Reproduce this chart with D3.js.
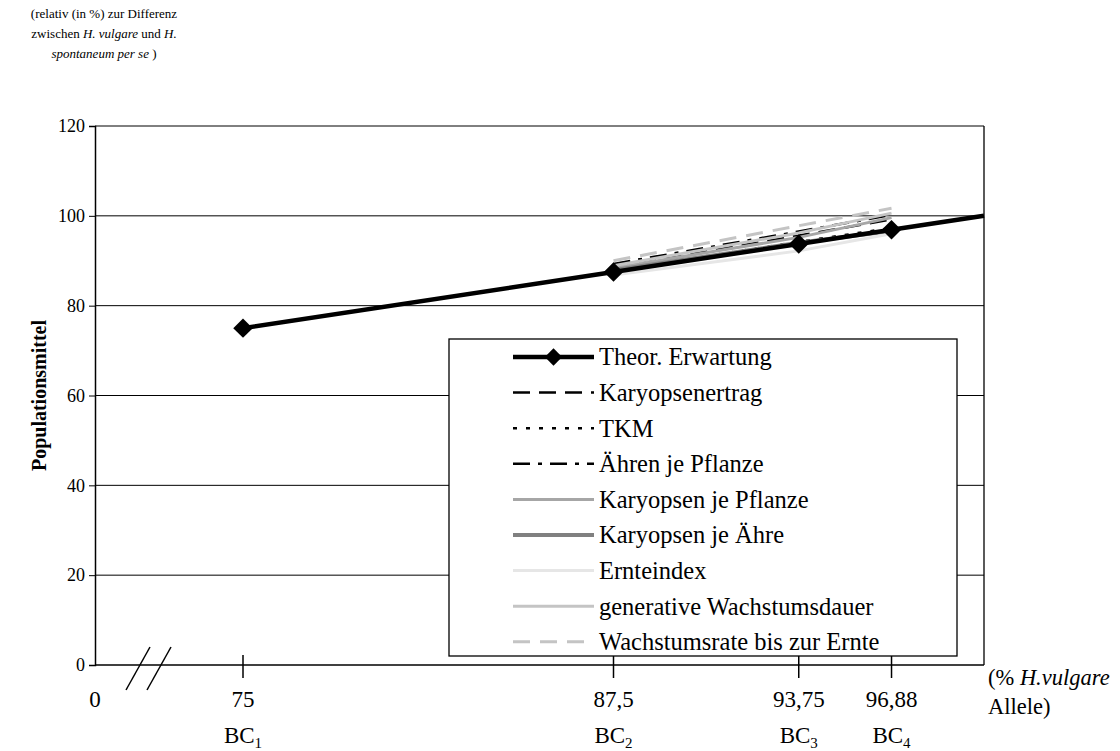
<!DOCTYPE html>
<html>
<head>
<meta charset="utf-8">
<script src="https://cdn.jsdelivr.net/npm/d3@7"></script>
<style>
  html, body { margin: 0; padding: 0; background: #fff; }
  svg { display: block; }
  svg text { font-family: "Liberation Serif", "Times New Roman", serif; }
</style>
</head>
<body>
<svg id="chart" width="1120" height="751"></svg>
<script>
// Share of H. vulgare alleles per backcross generation
const theorX = [75, 87.5, 93.75, 96.88, 100];
const theorY = [75, 87.5, 93.75, 96.88, 100];
const theorMarked = [true, true, true, true, false];

// Observed traits, measured in BC2, BC3 and BC4
const traitX = [87.5, 93.75, 96.88];
const karyopsenertrag = [88.6, 95.6, 99.2];
const tkm = [87.8, 94.2, 97.3];
const aehrenJePflanze = [89.3, 96.5, 100.2];
const karyopsenJePflanze = [88.4, 95.2, 99.6];
const karyopsenJeAehre = [87.9, 94.0, 96.6];
const ernteindex = [86.8, 92.2, 96.0];
const generativeWachstumsdauer = [88.9, 96.2, 100.6];
const wachstumsrate = [90.0, 97.8, 101.7];

const traitNames = [
  "Karyopsenertrag", "TKM", "Ähren je Pflanze", "Karyopsen je Pflanze",
  "Karyopsen je Ähre", "Ernteindex", "generative Wachstumsdauer",
  "Wachstumsrate bis zur Ernte"
];
const traitValues = [
  karyopsenertrag, tkm, aehrenJePflanze, karyopsenJePflanze,
  karyopsenJeAehre, ernteindex, generativeWachstumsdauer, wachstumsrate
];
const theorName = "Theor. Erwartung";

// Axis annotations
const yTicks = [0, 20, 40, 60, 80, 100, 120];
const xTickValues = [75, 87.5, 93.75, 96.88];
const xTickLabels = ["75", "87,5", "93,75", "96,88"];
const bcIndex = ["1", "2", "3", "4"];

// Line styles per trait (same order as traitNames)
const traitStyles = [
  { stroke: "#000000", width: 2.5, dash: "17,9" },
  { stroke: "#000000", width: 2.5, dash: "4,9" },
  { stroke: "#000000", width: 2.5, dash: "17,8,4,8" },
  { stroke: "#a6a6a6", width: 3, dash: null },
  { stroke: "#808080", width: 4, dash: null },
  { stroke: "#e6e6e6", width: 3, dash: null },
  { stroke: "#c4c4c4", width: 3, dash: null },
  { stroke: "#c4c4c4", width: 3, dash: "17,10" }
];

const SERIF = "Liberation Serif, Times New Roman, serif";
const svg = d3.select("#chart").attr("font-family", SERIF);
const plotL = 95, plotR = 984, plotT = 126, plotB = 665;

const x = d3.scaleLinear().domain([75, 100]).range([243, plotR]);
const y = d3.scaleLinear().domain([0, 120]).range([plotB, plotT]);

// Horizontal grid lines
svg.append("g").selectAll("line")
  .data(yTicks.filter(d => d > 0))
  .join("line")
  .attr("x1", plotL).attr("x2", plotR)
  .attr("y1", d => y(d)).attr("y2", d => y(d))
  .attr("stroke", "#000").attr("stroke-width", 1);

// Right border of the plot area
svg.append("line")
  .attr("x1", plotR).attr("x2", plotR)
  .attr("y1", y(120)).attr("y2", y(0))
  .attr("stroke", "#000").attr("stroke-width", 1.3);

// Y axis
const yAxis = d3.axisLeft(y).tickValues(yTicks).tickSize(6).tickPadding(4);
const gy = svg.append("g").attr("transform", `translate(${plotL},0)`).call(yAxis)
  .attr("font-family", SERIF).attr("font-size", 18);
gy.select(".domain").attr("stroke", "#000").attr("stroke-width", 1.5);
gy.selectAll(".tick line").attr("stroke", "#000");
gy.selectAll(".tick text").attr("fill", "#000");

// X axis line
svg.append("line")
  .attr("x1", plotL).attr("x2", plotR)
  .attr("y1", plotB).attr("y2", plotB)
  .attr("stroke", "#000").attr("stroke-width", 1.5);

// Axis break marks
const brk = svg.append("g").attr("stroke", "#000").attr("stroke-width", 1.5);
[126, 147].forEach(bx => {
  brk.append("line")
    .attr("x1", bx).attr("y1", plotB + 25)
    .attr("x2", bx + 24).attr("y2", plotB - 18);
});

// X tick marks and labels
const xt = svg.append("g");
xt.selectAll("line")
  .data(xTickValues)
  .join("line")
  .attr("x1", d => x(d)).attr("x2", d => x(d))
  .attr("y1", plotB - 10).attr("y2", plotB + 13)
  .attr("stroke", "#000").attr("stroke-width", 1.5);

xt.selectAll("text.num")
  .data(xTickValues)
  .join("text")
  .attr("class", "num")
  .attr("x", d => x(d)).attr("y", plotB + 42)
  .attr("text-anchor", "middle")
  .attr("font-size", 23)
  .text((d, i) => xTickLabels[i]);

svg.append("text")
  .attr("x", plotL).attr("y", plotB + 42)
  .attr("text-anchor", "middle").attr("font-size", 23)
  .text("0");

const bc = xt.selectAll("text.bc")
  .data(xTickValues)
  .join("text")
  .attr("class", "bc")
  .attr("x", d => x(d)).attr("y", plotB + 78)
  .attr("text-anchor", "middle")
  .attr("font-size", 23);
bc.append("tspan").text("BC");
bc.append("tspan").attr("dy", 5).attr("font-size", 15).text((d, i) => bcIndex[i]);

// X axis unit label
const xl = svg.append("text").attr("font-size", 22.5);
xl.append("tspan").attr("x", 988).attr("y", plotB + 20).text("(% ");
xl.append("tspan").attr("font-style", "italic").text("H.vulgare");
xl.append("tspan").attr("x", 988).attr("y", plotB + 49).text("Allele)");

// Y axis title
svg.append("text")
  .attr("transform", `translate(46,${(y(0) + y(120)) / 2}) rotate(-90)`)
  .attr("text-anchor", "middle")
  .attr("font-size", 20).attr("font-weight", "bold")
  .text("Populationsmittel");

// Note above the y axis
const note = svg.append("text").attr("text-anchor", "middle").attr("font-size", 13);
const nx = 104;
note.append("tspan").attr("x", nx).attr("y", 18).text("(relativ (in %) zur Differenz");
note.append("tspan").attr("x", nx).attr("y", 38).text("zwischen ");
note.append("tspan").attr("font-style", "italic").text("H. vulgare");
note.append("tspan").text("  und ");
note.append("tspan").attr("font-style", "italic").text("H.");
note.append("tspan").attr("x", nx).attr("y", 58).attr("font-style", "italic").text("spontaneum  per se");
note.append("tspan").text(" )");

// Trait lines
const line = d3.line().x(d => x(d[0])).y(d => y(d[1]));
const traitG = svg.append("g").attr("fill", "none");
traitValues.forEach((vals, i) => {
  const st = traitStyles[i];
  traitG.append("path")
    .datum(traitX.map((xv, j) => [xv, vals[j]]))
    .attr("d", line)
    .attr("stroke", st.stroke)
    .attr("stroke-width", st.width)
    .attr("stroke-dasharray", st.dash)
    .attr("stroke-linejoin", "round");
});

// Theoretical expectation
const theorPts = theorX.map((xv, j) => [xv, theorY[j]]);
svg.append("path")
  .datum(theorPts)
  .attr("d", line)
  .attr("fill", "none")
  .attr("stroke", "#000")
  .attr("stroke-width", 4.5);

svg.append("g").selectAll("path")
  .data(theorPts.filter((d, j) => theorMarked[j]))
  .join("path")
  .attr("transform", d => `translate(${x(d[0])},${y(d[1])}) rotate(45)`)
  .attr("d", d3.symbol().type(d3.symbolSquare).size(190))
  .attr("fill", "#000");

// Legend
const lg = svg.append("g");
lg.append("rect")
  .attr("x", 449).attr("y", 339)
  .attr("width", 508).attr("height", 317)
  .attr("fill", "#fff").attr("stroke", "#000").attr("stroke-width", 1.3);

const legendItems = [{ name: theorName, style: { stroke: "#000", width: 4.5, dash: null }, marker: true }]
  .concat(traitNames.map((n, i) => ({ name: n, style: traitStyles[i], marker: false })));

const rowY = i => 357 + i * 35.6;
legendItems.forEach((it, i) => {
  const ry = rowY(i);
  lg.append("line")
    .attr("x1", 513).attr("x2", 594)
    .attr("y1", ry).attr("y2", ry)
    .attr("stroke", it.style.stroke)
    .attr("stroke-width", it.style.width)
    .attr("stroke-dasharray", it.style.dash);
  if (it.marker) {
    lg.append("path")
      .attr("transform", `translate(553.5,${ry}) rotate(45)`)
      .attr("d", d3.symbol().type(d3.symbolSquare).size(150))
      .attr("fill", "#000");
  }
  lg.append("text")
    .attr("x", 599).attr("y", ry)
    .attr("dy", "0.34em")
    .attr("font-size", 24.5)
    .text(it.name);
});
</script>
</body>
</html>
